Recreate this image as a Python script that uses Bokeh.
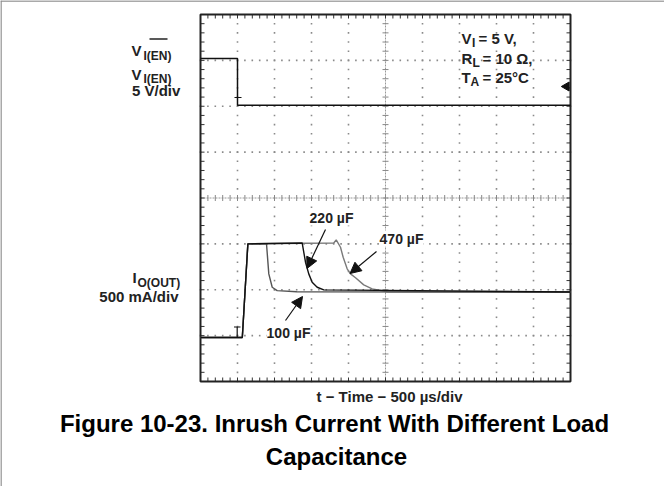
import numpy as np
from bokeh.plotting import figure
from bokeh.models import Range1d, Label, Arrow, NormalHead
from bokeh.embed import file_html
from bokeh.resources import INLINE

# ---------------- data ----------------
# Channel 1: enable voltage (V) vs time (us)
t_en = [0, 500, 500, 5000]
v_en = [5.2, 5.2, 0.1, 0.1]

# Channel 2: output current (mA) vs time (us), three load capacitances
t_100 = [0, 540, 565, 640, 892, 923, 969, 1036, 1300, 5000]
i_100 = [-20, -20, -20, 1000, 1000, 673, 527, 491, 478, 475]
t_220 = [0, 540, 565, 640, 1374, 1396, 1419, 1463, 1509, 1577, 1666, 5000]
i_220 = [-20, -20, -20, 1000, 1010, 908, 800, 673, 582, 527, 499, 475]
t_470 = [0, 540, 565, 640, 1801, 1834, 1892, 1928, 1982, 2027, 2095, 2206, 2320, 2523, 5000]
i_470 = [-20, -20, -20, 1000, 1010, 1044, 963, 854, 728, 673, 630, 553, 510, 478, 475]

cap_labels = ["100 µF", "220 µF", "470 µF"]

# ---------------- figure geometry ----------------
W, H = 664, 486
PL, PT, PW, PH = 200, 14, 370, 367          # scope screen in page pixels
X0, X1 = 0, 5000                             # 10 div x 500 us
Y0, Y1 = -500, 3500                          # 8 div x 500 mA (0 mA at div 1)
V0, V1 = -30, 10                             # 8 div x 5 V (0 V at div 6)

ux = (X1 - X0) / PW
uy = (Y1 - Y0) / PH
uv = (V1 - V0) / PH

def dx(px):
    return X0 + (px - PL) * ux

def dy(py):
    return Y0 + (PT + PH - py) * uy

p = figure(width=W, height=H, output_backend="svg", toolbar_location=None,
           x_range=Range1d(dx(0), dx(W)), y_range=Range1d(dy(H), dy(0)),
           x_axis_location=None, y_axis_location=None,
           min_border=0, min_border_left=0, min_border_right=0,
           min_border_top=0, min_border_bottom=0,
           background_fill_color="white", border_fill_color="white")
p.grid.visible = False
p.outline_line_color = None
p.extra_y_ranges = {"v": Range1d(V0 - (H - PT - PH) * uv, V1 + PT * uv)}

# thin gray page border (left / top)
p.segment([dx(0.5)], [dy(0)], [dx(0.5)], [dy(H)], line_color="#8c8c8c", line_width=1.5)
p.segment([dx(0)], [dy(0.5)], [dx(W)], [dy(0.5)], line_color="#8c8c8c", line_width=1.5)

# dotted grid
xdiv = np.arange(X0, X1 + 1, 500)
ydiv = np.arange(Y0, Y1 + 1, 500)
xmin = np.arange(X0, X1 + 1, 100)
ymin = np.arange(Y0, Y1 + 1, 100)
gx, gy = [], []
for xv in xdiv[1:-1]:
    if xv == 2500:
        continue
    gx += [xv] * len(ymin)
    gy += list(ymin)
for yv in ydiv[1:-1]:
    if yv == 1500:
        continue
    gx += list(xmin)
    gy += [yv] * len(xmin)
p.scatter(gx, gy, marker="square", size=1.6, color="#8a8a8a", line_color=None)

# centre cross
p.segment([X0], [1500], [X1], [1500], line_color="#9a9a9a", line_width=1, line_dash="2 1")
p.segment([2500], [Y0], [2500], [Y1], line_color="#9a9a9a", line_width=1, line_dash="2 1")
p.segment(xmin, 1500 - 3 * uy, xmin, 1500 + 3 * uy, line_color="#888888", line_width=1)
p.segment(2500 - 3 * ux, ymin, 2500 + 3 * ux, ymin, line_color="#888888", line_width=1)

# edge ticks
p.segment(xmin, Y1, xmin, Y1 - 4 * uy, line_color="#333333", line_width=1)
p.segment(xmin, Y0, xmin, Y0 + 4 * uy, line_color="#333333", line_width=1)
p.segment(X0, ymin, X0 + 4 * ux, ymin, line_color="#333333", line_width=1)
p.segment(X1, ymin, X1 - 4 * ux, ymin, line_color="#333333", line_width=1)

# scope frame
p.quad(left=[X0], right=[X1], bottom=[Y0], top=[Y1], fill_color=None,
       line_color="#222222", line_width=2)

# traces
p.line(t_en, v_en, y_range_name="v", line_color="#111111", line_width=1.5)
p.line(t_470, i_470, line_color="#7a7a7a", line_width=1.4)
p.line(t_100, i_100, line_color="#555555", line_width=1.4)
p.line(t_220, i_220, line_color="#111111", line_width=1.4)

# trigger markers
p.segment([dx(234)], [dy(97)], [dx(241)], [dy(97)], line_color="#111111", line_width=1.2)
p.segment([dx(233.5)], [dy(326.5)], [dx(240)], [dy(326.5)], line_color="#111111", line_width=1.2)
p.segment([dx(236.7)], [dy(326.5)], [dx(236.7)], [dy(337)], line_color="#111111", line_width=1.2)
p.scatter([dx(566)], [dy(86)], marker="triangle", angle=np.pi / 2, size=9,
          color="#111111")

FONT = "Liberation Sans"
TXT = "#222222"

def lab(px, py, text, size=15, align="left", baseline="alphabetic", color=TXT, bg=None):
    kw = {}
    if bg:
        kw = dict(background_fill_color=bg)
    p.add_layout(Label(x=dx(px), y=dy(py), text=text, text_font=FONT,
                       text_font_size=f"{size}px", text_font_style="bold",
                       text_align=align, text_baseline=baseline, text_color=color, **kw))

# left channel labels
lab(131, 50, "V")
lab(143, 55, "I(EN)", size=12)
p.segment([dx(149)], [dy(38.5)], [dx(167)], [dy(38.5)], line_color=TXT, line_width=1.3)
lab(131, 74, "V")
lab(143, 78, "I(EN)", size=12)
lab(131.5, 90, "5 V/div")
lab(132, 277, "I")
lab(137, 282, "O(OUT)", size=12)
lab(178, 296, "500 mA/div", align="right")

# conditions
lab(461, 38, "V")
lab(471.5, 42, "I", size=12)
lab(478, 38, "= 5 V,")
lab(461, 58, "R")
lab(472, 62, "L", size=12)
lab(482, 58, "= 10 Ω,")
lab(461, 77, "T")
lab(470, 81, "A", size=12)
lab(482, 77, "= 25°C")

# capacitance callouts
lab(331, 217, cap_labels[1], size=14, align="center", baseline="middle", bg="white")
lab(401, 238, cap_labels[2], size=14, align="center", baseline="middle", bg="white")
lab(288, 332, cap_labels[0], size=14, align="center", baseline="middle", bg="white")

def arrow(x0, y0, x1, y1):
    p.add_layout(Arrow(end=NormalHead(size=11, fill_color="#111111", line_color="#111111"),
                       x_start=dx(x0), y_start=dy(y0), x_end=dx(x1), y_end=dy(y1),
                       line_color="#111111", line_width=1.2))

arrow(325, 229, 306.5, 268)
arrow(376, 251, 349.5, 273)
arrow(285, 320, 302, 296)

# axis caption and figure title
lab(389, 396, "t − Time − 500 µs/div", size=15, align="center", baseline="middle")
lab(334, 423, "Figure 10-23. Inrush Current With Different Load", size=24,
    align="center", baseline="middle", color="#000000")
lab(336, 456, "Capacitance", size=24, align="center", baseline="middle", color="#000000")

open("out.html", "w").write(file_html(p, INLINE))
